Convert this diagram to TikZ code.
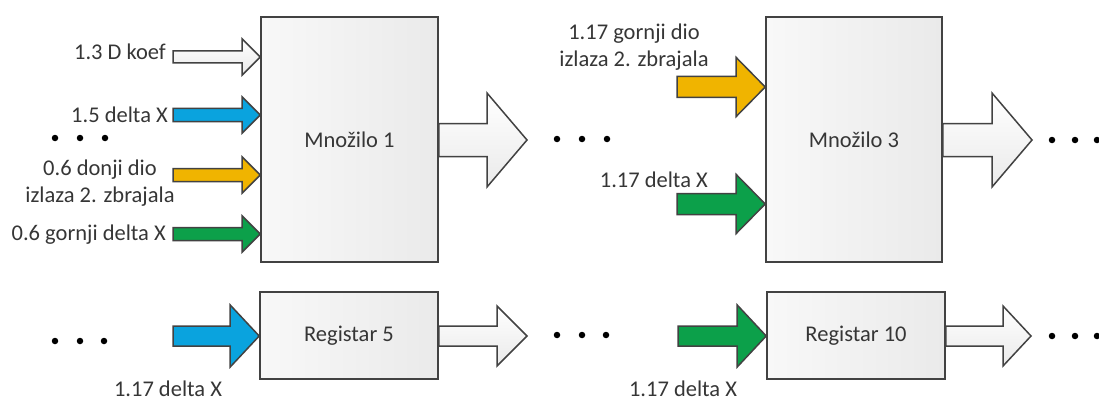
\documentclass[tikz,border=0pt]{standalone}
\usepackage{fontspec}
\setmainfont{Carlito}
\usetikzlibrary{calc}

\definecolor{edge}{HTML}{424242}
\definecolor{txt}{HTML}{363636}
\definecolor{blueA}{HTML}{0AA3DE}
\definecolor{goldA}{HTML}{F0B400}
\definecolor{greenA}{HTML}{0CA04A}
\definecolor{boxL}{HTML}{F8F8F8}
\definecolor{boxR}{HTML}{EAEAEA}

\tikzset{
  blk/.style={draw=edge, line width=1.6pt, left color=boxL, right color=boxR,
              inner sep=0pt, text=txt, font=\fontsize{22.5}{27}\selectfont},
  lbl/.style={text=txt, font=\fontsize{22.5}{27}\selectfont, inner sep=0pt},
  arr/.style={draw=edge, line width=1.5pt, line join=miter},
  arrW/.style={arr, top color=white, bottom color=boxR},
  arrB/.style={arr, fill=blueA},
  arrY/.style={arr, fill=goldA},
  arrG/.style={arr, fill=greenA},
  dot/.style={circle, fill=black, inner sep=0pt, minimum size=6.5pt}
}

% block arrow: style, tail point, tip point, shaft half height, head half height, head length
\newcommand{\blockarrow}[6]{%
  \path[#1] let \p1=(#2), \p2=(#3) in
    (\x1,\y2+#4pt) -- (\x2-#6pt,\y2+#4pt) -- (\x2-#6pt,\y2+#5pt) -- (\x2,\y2)
    -- (\x2-#6pt,\y2-#5pt) -- (\x2-#6pt,\y2-#4pt) -- (\x1,\y2-#4pt) -- cycle;}

\begin{document}
\begin{tikzpicture}[x=1pt,y=-1pt]
\useasboundingbox (0,0) rectangle (1099,401);

% processing blocks
\node[blk, minimum width=177pt, minimum height=245pt] (m1) at (349.5,139.5) {Množilo 1};
\node[blk, minimum width=176pt, minimum height=245pt] (m3) at (854,139.5) {Množilo 3};
\node[blk, minimum width=178pt, minimum height=87pt] (r5) at (349,335.5) {Registar 5};
\node[blk, minimum width=178pt, minimum height=87pt] (r10) at (856,335.5) {Registar 10};

% inputs of Množilo 1
\coordinate (i1) at (173,57);
\coordinate (i2) at (173,115);
\coordinate (i3) at (173,175);
\coordinate (i4) at (173,234);
\blockarrow{arrW}{i1}{m1.west |- i1}{6}{18}{18}
\blockarrow{arrB}{i2}{m1.west |- i2}{6.5}{18}{18}
\blockarrow{arrY}{i3}{m1.west |- i3}{6.5}{18}{18}
\blockarrow{arrG}{i4}{m1.west |- i4}{6.5}{18}{18}

\node[lbl, anchor=base east] (t1) at (166,60) {1.3 D koef};
\node[lbl, anchor=base east] (t2) at (168,123) {1.5 delta X};
\node[lbl, align=center, anchor=base] (t3) at (100,202) {0.6 donji dio\\izlaza 2. zbrajala};
\node[lbl, anchor=base east] (t4) at (166,240) {0.6 gornji delta X};

% inputs of Množilo 3
\coordinate (j1) at (677,87);
\coordinate (j2) at (677,204);
\blockarrow{arrY}{j1}{m3.west |- j1}{10.5}{29.5}{29}
\blockarrow{arrG}{j2}{m3.west |- j2}{10.5}{29.5}{29}
\node[lbl, align=center, anchor=base] (u1) at (634,67) {1.17 gornji dio\\izlaza 2. zbrajala};
\node[lbl, anchor=base east] (u2) at (708,187) {1.17 delta X};

% inputs of the registers
\coordinate (k1) at (173,336);
\coordinate (k2) at (678,336);
\blockarrow{arrB}{k1}{r5.west |- k1}{10}{31}{29}
\blockarrow{arrG}{k2}{r10.west |- k2}{10}{31}{29}
\node[lbl, anchor=base] (v1) at (168,396) {1.17 delta X};
\node[lbl, anchor=base] (v2) at (683,396) {1.17 delta X};

% outputs
\coordinate (o1) at (527,140);
\coordinate (o3) at (1032,140);
\coordinate (o5) at (527,336);
\coordinate (o10) at (1031,336);
\blockarrow{arrW}{m1.east}{o1}{16.5}{47}{40}
\blockarrow{arrW}{m3.east}{o3}{16.5}{47}{40}
\blockarrow{arrW}{r5.east}{o5}{10}{30}{30}
\blockarrow{arrW}{r10.east}{o10}{10}{30}{28}

% continuation marks
\foreach \n/\x/\y in {a1/55/138, a2/80/138, a3/105/138,
                      b1/557/139, b2/582/139, b3/607/139,
                      c1/1052/140, c2/1075/140, c3/1097/140,
                      e1/55/341, e2/80/341, e3/104/341,
                      f1/557/335, f2/582/335, f3/606/335,
                      g1/1052/336, g2/1075/336, g3/1097/336}
  \node[dot] (\n) at (\x,\y) {};
\end{tikzpicture}
\end{document}
